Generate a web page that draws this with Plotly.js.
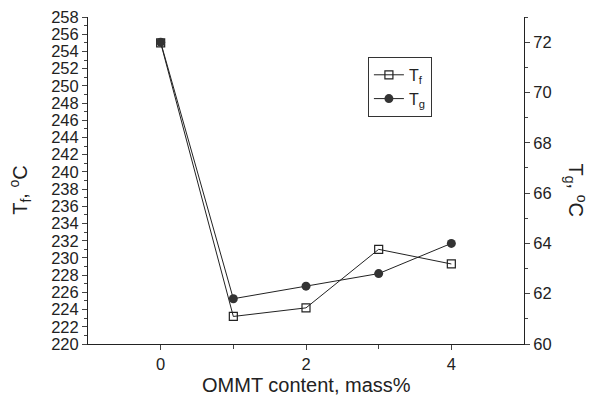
<!DOCTYPE html>
<html>
<head>
<meta charset="utf-8">
<script src="https://cdn.plot.ly/plotly-3.0.1.min.js"></script>
<style>html,body{margin:0;padding:0;background:#fff;}#chart{width:592px;height:397px;}</style>
</head>
<body>
<div id="chart"></div>
<script>
const content = [0, 1, 2, 3, 4];
const Tf = [255.0, 223.2, 224.2, 231.0, 229.3];
const Tg = [72.0, 61.8, 62.3, 62.8, 64.0];

const fam = 'Liberation Sans, Arial, sans-serif';
const tickFont = {family: fam, size: 16.5, color: '#222'};
const titleFont = {family: fam, size: 20, color: '#222'};

const traces = [
  {x: content, y: Tf, name: 'T<sub>f</sub>', type: 'scatter', mode: 'lines+markers',
   line: {color: '#222', width: 1},
   marker: {symbol: 'square-open', size: 8, color: '#222', line: {width: 1.2}},
   xaxis: 'x', yaxis: 'y'},
  {x: content, y: Tg, name: 'T<sub>g</sub>', type: 'scatter', mode: 'lines+markers',
   line: {color: '#222', width: 1},
   marker: {symbol: 'circle', size: 9, color: '#333'},
   xaxis: 'x', yaxis: 'y2'}
];

const layout = {
  width: 592, height: 397,
  margin: {l: 88, r: 68, t: 17, b: 53},
  paper_bgcolor: '#fff', plot_bgcolor: '#fff',
  font: tickFont,
  showlegend: true,
  legend: {x: 0.642, y: 0.878, xanchor: 'left', yanchor: 'top',
           bordercolor: '#333', borderwidth: 1, bgcolor: '#fff',
           font: {family: fam, size: 16, color: '#222'},
           tracegroupgap: 0, itemwidth: 30},
  xaxis: {range: [-1, 5], tickvals: [0, 2, 4], ticks: 'outside', ticklen: 5,
          minor: {tickvals: [1, 3], ticks: 'outside', ticklen: 4},
          showgrid: false, zeroline: false, showline: true, linecolor: '#222', linewidth: 1,
          tickfont: tickFont},
  xaxis2: {range: [-1, 5], overlaying: 'x', side: 'top', tickvals: [0, 2, 4],
           ticks: 'inside', ticklen: 5, showticklabels: false,
           minor: {tickvals: [1, 3], ticks: 'inside', ticklen: 4},
           showgrid: false, zeroline: false, showline: true, linecolor: '#222', linewidth: 1},
  yaxis: {range: [220, 258], dtick: 2, ticks: 'outside', ticklen: 5,
          minor: {dtick: 1, ticks: 'outside', ticklen: 3},
          showgrid: false, zeroline: false, showline: true, linecolor: '#222', linewidth: 1,
          tickfont: tickFont},
  yaxis2: {range: [60, 73], overlaying: 'y', side: 'right', tickvals: [60, 62, 64, 66, 68, 70, 72],
           ticks: 'outside', ticklen: 5,
           minor: {dtick: 1, ticks: 'outside', ticklen: 3},
           showgrid: false, zeroline: false, showline: true, linecolor: '#222', linewidth: 1,
           tickfont: tickFont},
  annotations: [
    {text: 'OMMT content, mass%', xref: 'paper', yref: 'paper', x: 0.5, y: -0.126,
     showarrow: false, font: titleFont, xanchor: 'center', yanchor: 'middle'},
    {text: 'T<sub>f</sub>, <sup>o</sup>C', xref: 'paper', yref: 'paper', x: -0.154, y: 0.471,
     showarrow: false, textangle: -90, font: titleFont, xanchor: 'center', yanchor: 'middle'},
    {text: 'T<sub>g</sub>, <sup>o</sup>C', xref: 'paper', yref: 'paper', x: 1.118, y: 0.471,
     showarrow: false, textangle: 90, font: titleFont, xanchor: 'center', yanchor: 'middle'}
  ]
};

Plotly.newPlot('chart', traces, layout, {displayModeBar: false, staticPlot: true});
</script>
</body>
</html>
